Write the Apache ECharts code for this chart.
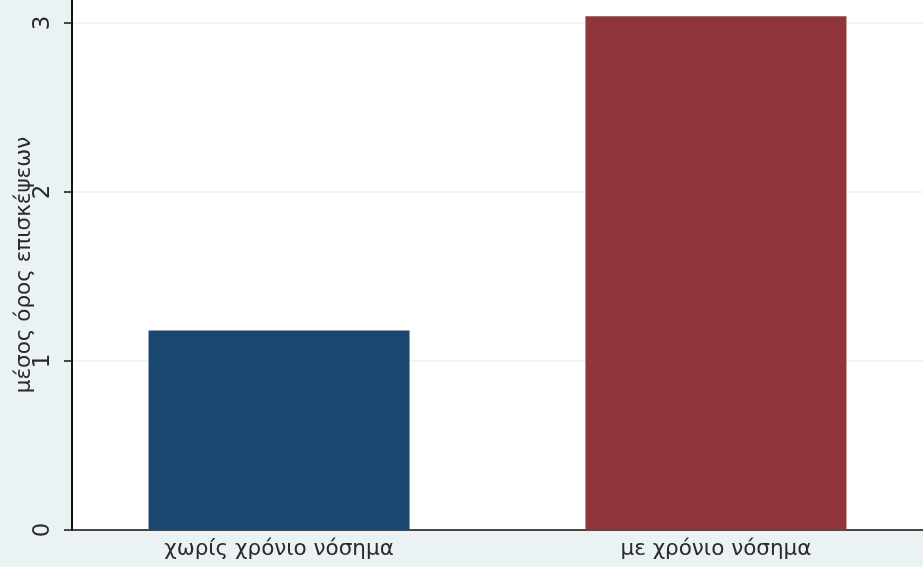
<!DOCTYPE html>
<html>
<head>
<meta charset="utf-8">
<script src="https://cdn.jsdelivr.net/npm/echarts@6/dist/echarts.min.js"></script>
<style>
  html, body { margin: 0; padding: 0; background: #eaf2f3; }
  #chart { width: 923px; height: 567px; }
</style>
</head>
<body>
<div id="chart"></div>
<script>
const categories = ['χωρίς χρόνιο νόσημα', 'με χρόνιο νόσημα'];
const values = [1.18, 3.04];
const yTicks = [0, 1, 2, 3];
const yTitle = 'μέσος όρος επισκέψεων';

const barColors = ['#1a476f', '#90353b'];
const font = 'DejaVu Sans';

const chart = echarts.init(document.getElementById('chart'), null, { renderer: 'canvas' });

const series = categories.map((name, i) => ({
  type: 'bar',
  name: name,
  data: [values[i]],
  barWidth: 261,
  barGap: '67.4%',
  clip: false,
  itemStyle: { color: barColors[i] },
  label: {
    show: true,
    position: 'bottom',
    distance: 8,
    formatter: name,
    color: '#2a2a2a',
    fontFamily: font,
    fontSize: 21.5
  },
  emphasis: { disabled: true }
}));

chart.setOption({
  animation: false,
  backgroundColor: '#eaf2f3',
  grid: {
    left: 72, right: 0, top: 0, bottom: 37,
    outerBoundsMode: 'none',
    containLabel: false,
    show: true, backgroundColor: '#ffffff', borderWidth: 0
  },
  xAxis: {
    type: 'category',
    data: [''],
    axisLine: { show: true, lineStyle: { color: '#111', width: 1.5 } },
    axisTick: { show: false },
    axisLabel: { show: false }
  },
  yAxis: {
    type: 'value',
    min: 0,
    max: 3.136,
    interval: 1,
    name: yTitle,
    nameLocation: 'middle',
    nameGap: 37,
    nameMoveOverlap: false,
    nameTextStyle: { color: '#2a2a2a', fontFamily: font, fontSize: 21.5 },
    axisLine: { show: true, lineStyle: { color: '#111', width: 2 } },
    axisTick: { show: true, length: 8, lineStyle: { color: '#111', width: 1.5 }, customValues: yTicks },
    axisLabel: {
      rotate: 90, margin: 17, color: '#2a2a2a', fontFamily: font, fontSize: 23,
      customValues: yTicks
    },
    splitLine: { show: true, lineStyle: { color: '#eaf2f3', width: 1.5 } }
  },
  series: series
});
</script>
</body>
</html>
